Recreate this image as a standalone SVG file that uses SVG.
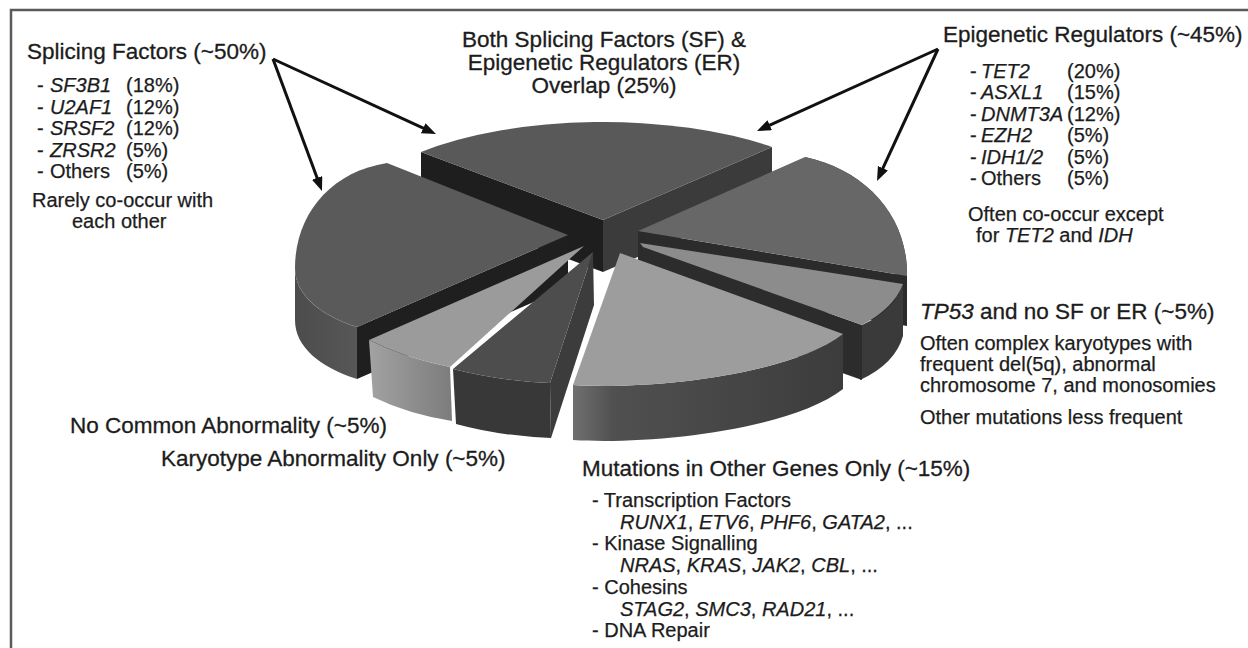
<svg xmlns="http://www.w3.org/2000/svg" width="1248" height="648" viewBox="0 0 1248 648">
<style>
.h{font-family:"Liberation Sans",Arial,sans-serif;font-size:22.5px;fill:#1c1c1c;stroke:#1c1c1c;stroke-width:0.3}
.b{font-family:"Liberation Sans",Arial,sans-serif;font-size:20px;fill:#1c1c1c;stroke:#1c1c1c;stroke-width:0.25}
.i{font-style:italic}
.conn line{stroke:#111;stroke-width:3;marker-end:url(#ah)}
</style>
<defs>
<marker id="ah" markerUnits="userSpaceOnUse" markerWidth="16" markerHeight="12" refX="6" refY="5.5" orient="auto"><path d="M0,0 L14,5.5 L0,11 Z" fill="#111"/></marker>
<linearGradient id="gSideOther" x1="0" y1="0" x2="1" y2="0"><stop offset="0" stop-color="#707070"/><stop offset="0.15" stop-color="#505050"/><stop offset="1" stop-color="#3c3c3c"/></linearGradient>
<linearGradient id="gSideLeft" x1="0" y1="0" x2="1" y2="0"><stop offset="0" stop-color="#4c4c4c"/><stop offset="1" stop-color="#575757"/></linearGradient>
<linearGradient id="gSideNC" x1="0" y1="0" x2="1" y2="0"><stop offset="0" stop-color="#a2a2a2"/><stop offset="1" stop-color="#7c7c7c"/></linearGradient>
</defs>
<rect width="1248" height="648" fill="#fff"/>
<path d="M11,648 V10 H1248" fill="none" stroke="#5a5a5a" stroke-width="2.5"/>

<g id="pie">
<g id="slice-overlap">
<polygon points="421,152 603,220 603,272 421,204" fill="#1e1e1e"/>
<polygon points="603,220 772,147 772,199 603,272" fill="#3b3b3b"/>
<path d="M421,152 A255,100 0 0 1 772,147 L603,220 Z" fill="#595959"/>
</g>
<g id="slice-er">
<path d="M805,157 C865,170 908,215 907,276 L907,326 C908,265 865,220 805,207 Z" fill="#3a3a3a"/>
<polygon points="638,231 907,276 907,326 638,281" fill="#2b2b2b"/>
<path d="M638,231 L805,157 C865,170 908,215 907,276 Z" fill="#676767"/>
</g>
<g id="slice-tp53">
<path d="M903,284 Q895,310 862,325 L860,380 Q895,364 903,336 Z" fill="#3a3a3a"/>
<polygon points="643,247 862,325 862,380 643,302" fill="#2c2c2c"/>
<path d="M640,243 L903,284 Q894,308 862,325 L643,247 Z" fill="#8c8c8c"/>
</g>
<g id="slice-other">
<path d="M573,385 C650,390 790,375 843,334 L843,389 C790,430 650,445 573,440 Z" fill="url(#gSideOther)"/>
<path d="M620,253 L843,334 C790,375 650,390 573,385 Z" fill="#9d9d9d"/>
</g>
<g id="slice-sf">
<path d="M295,268 C295,295 320,315 357,327 L357,379 C320,367 295,347 295,320 Z" fill="url(#gSideLeft)"/>
<polygon points="357,327 568,235 568,287 357,379" fill="#1f1f1f"/>
<path d="M568,235 L387,163 C330,172 295,215 295,268 C295,295 320,315 357,327 Z" fill="#5a5a5a"/>
</g>
<g id="slice-karyotype">
<polygon points="593,252 550,383 551,438 594,305" fill="#3c3c3c"/>
<path d="M453,369 Q500,381 550,383 L551,438 Q500,436 456,424 Z" fill="#383838"/>
<path d="M593,252 L453,369 Q500,381 550,383 Z" fill="#4d4d4d"/>
</g>
<g id="slice-nocommon">
<path d="M369,340 Q405,358 450,367 L452,421 Q408,414 373,397 Z" fill="url(#gSideNC)"/>
<path d="M584,246 L369,340 Q405,358 450,367 Z" fill="#9b9b9b"/>
</g>
</g>

<g id="connectors" class="conn">
<line x1="273" y1="59" x2="319.2" y2="183.5"/>
<line x1="273" y1="59" x2="428.7" y2="130.7"/>
<line x1="938" y1="49" x2="764.3" y2="127.7"/>
<line x1="938" y1="49" x2="880.4" y2="173.7"/>
</g>

<g id="label-sf">
<text class="h" x="27" y="58.5">Splicing Factors (~50%)</text>
<text class="b" y="92"><tspan x="37">-</tspan><tspan x="50" class="i">SF3B1</tspan><tspan x="126">(18%)</tspan></text>
<text class="b" y="113.5"><tspan x="37">-</tspan><tspan x="50" class="i">U2AF1</tspan><tspan x="126">(12%)</tspan></text>
<text class="b" y="135"><tspan x="37">-</tspan><tspan x="50" class="i">SRSF2</tspan><tspan x="126">(12%)</tspan></text>
<text class="b" y="156.5"><tspan x="37">-</tspan><tspan x="50" class="i">ZRSR2</tspan><tspan x="126">(5%)</tspan></text>
<text class="b" y="178"><tspan x="37">-</tspan><tspan x="50">Others</tspan><tspan x="126">(5%)</tspan></text>
<text class="b" x="32" y="207">Rarely co-occur with</text>
<text class="b" x="72" y="228">each other</text>
</g>

<g id="label-overlap">
<text class="h" x="604" y="46.5" text-anchor="middle">Both Splicing Factors (SF) &amp;</text>
<text class="h" x="604" y="69.5" text-anchor="middle">Epigenetic Regulators (ER)</text>
<text class="h" x="604" y="92.5" text-anchor="middle">Overlap (25%)</text>
</g>

<g id="label-er">
<text class="h" x="943" y="42">Epigenetic Regulators (~45%)</text>
<text class="b" y="77.5"><tspan x="970">-</tspan><tspan x="981" class="i">TET2</tspan><tspan x="1067">(20%)</tspan></text>
<text class="b" y="99"><tspan x="970">-</tspan><tspan x="981" class="i">ASXL1</tspan><tspan x="1067">(15%)</tspan></text>
<text class="b" y="120.5"><tspan x="970">-</tspan><tspan x="981" class="i">DNMT3A</tspan><tspan x="1067">(12%)</tspan></text>
<text class="b" y="142"><tspan x="970">-</tspan><tspan x="981" class="i">EZH2</tspan><tspan x="1067">(5%)</tspan></text>
<text class="b" y="163.5"><tspan x="970">-</tspan><tspan x="981" class="i">IDH1/2</tspan><tspan x="1067">(5%)</tspan></text>
<text class="b" y="185"><tspan x="970">-</tspan><tspan x="981">Others</tspan><tspan x="1067">(5%)</tspan></text>
<text class="b" x="968" y="221">Often co-occur except</text>
<text class="b" x="976" y="242">for <tspan class="i">TET2</tspan> and <tspan class="i">IDH</tspan></text>
</g>

<g id="label-tp53">
<text class="h" x="920" y="319"><tspan class="i">TP53</tspan> and no SF or ER (~5%)</text>
<text class="b" x="920" y="350">Often complex karyotypes with</text>
<text class="b" x="920" y="371">frequent del(5q), abnormal</text>
<text class="b" x="920" y="392">chromosome 7, and monosomies</text>
<text class="b" x="920" y="424">Other mutations less frequent</text>
</g>

<g id="label-nocommon">
<text class="h" x="70" y="433">No Common Abnormality (~5%)</text>
</g>
<g id="label-karyotype">
<text class="h" x="161" y="466">Karyotype Abnormality Only (~5%)</text>
</g>

<g id="label-other">
<text class="h" x="582" y="476">Mutations in Other Genes Only (~15%)</text>
<text class="b" x="592" y="507">- Transcription Factors</text>
<text class="b" x="620" y="528.7"><tspan class="i">RUNX1</tspan>, <tspan class="i">ETV6</tspan>, <tspan class="i">PHF6</tspan>, <tspan class="i">GATA2</tspan>, ...</text>
<text class="b" x="592" y="550.4">- Kinase Signalling</text>
<text class="b" x="620" y="572.1"><tspan class="i">NRAS</tspan>, <tspan class="i">KRAS</tspan>, <tspan class="i">JAK2</tspan>, <tspan class="i">CBL</tspan>, ...</text>
<text class="b" x="592" y="593.8">- Cohesins</text>
<text class="b" x="620" y="615.5"><tspan class="i">STAG2</tspan>, <tspan class="i">SMC3</tspan>, <tspan class="i">RAD21</tspan>, ...</text>
<text class="b" x="592" y="637.2">- DNA Repair</text>
</g>
</svg>
